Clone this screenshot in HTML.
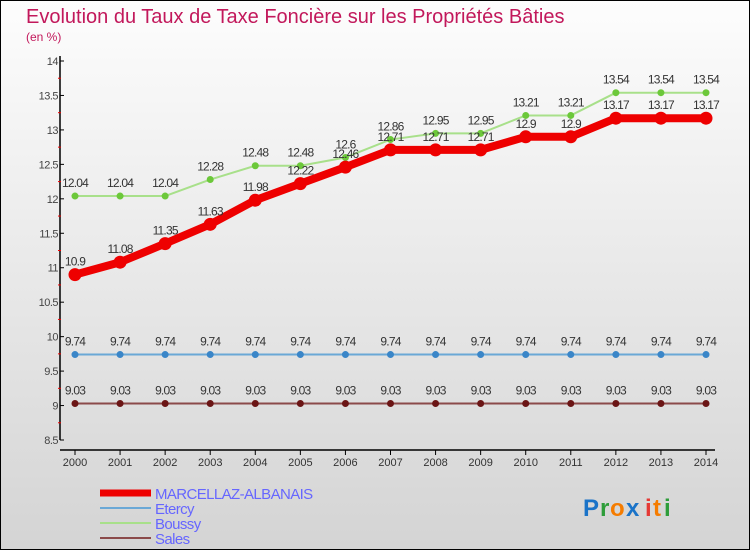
<!DOCTYPE html>
<html><head><meta charset="utf-8"><style>
body{margin:0;}
#c{width:750px;height:550px;position:relative;overflow:hidden;}
svg text{font-family:"Liberation Sans",sans-serif;}
</style></head><body>
<div id="c">
<svg id="s" width="750" height="550" xmlns="http://www.w3.org/2000/svg">
<defs><linearGradient id="bg" x1="0" y1="0" x2="0" y2="1"><stop offset="0" stop-color="#fdfdfd"/><stop offset="1" stop-color="#d4d4d4"/></linearGradient></defs>
<rect x="0.5" y="0.5" width="749" height="549" fill="url(#bg)" stroke="#000"/>
<text x="26" y="23" font-size="20" fill="#c2185b">Evolution du Taux de Taxe Foncière sur les Propriétés Bâties</text>
<text x="26" y="41" font-size="12" fill="#c2185b">(en %)</text>
<g id="axes"></g>
<g id="series"></g>
<g id="legend"></g>
<g font-size="24" font-weight="bold">
<text x="583" y="516" fill="#1a73c8">P</text><text x="600" y="516" fill="#2e9d3a">r</text><text x="610" y="516" fill="#f57c00">o</text><text x="626" y="516" fill="#1a73c8">x</text><text x="645" y="516" fill="#e53935">i</text><text x="653" y="516" fill="#f57c00">t</text><text x="664" y="516" fill="#2e9d3a">i</text>
</g>
</svg>
</div>
<script>
const years=[2000,2001,2002,2003,2004,2005,2006,2007,2008,2009,2010,2011,2012,2013,2014];
const yTicks=[8.5,9,9.5,10,10.5,11,11.5,12,12.5,13,13.5,14];
const marcellaz=[10.9,11.08,11.35,11.63,11.98,12.22,12.46,12.71,12.71,12.71,12.9,12.9,13.17,13.17,13.17];
const etercy=[9.74,9.74,9.74,9.74,9.74,9.74,9.74,9.74,9.74,9.74,9.74,9.74,9.74,9.74,9.74];
const boussy=[12.04,12.04,12.04,12.28,12.48,12.48,12.6,12.86,12.95,12.95,13.21,13.21,13.54,13.54,13.54];
const sales=[9.03,9.03,9.03,9.03,9.03,9.03,9.03,9.03,9.03,9.03,9.03,9.03,9.03,9.03,9.03];
const NS="http://www.w3.org/2000/svg";
function X(i){return 75+i*(706-75)/(years.length-1);}
function Y(v){return 440-(v-8.5)*(440-61)/(14-8.5);}
function mk(tag,attrs,parent){const e=document.createElementNS(NS,tag);for(const k in attrs)e.setAttribute(k,attrs[k]);parent.appendChild(e);return e;}
const ax=document.getElementById('axes');
let yl=mk('line',{x1:60,y1:56,x2:60,y2:440,stroke:'#000','stroke-width':1.5},ax);


let xl=mk('line',{x1:60,y1:450,x2:715,y2:450,stroke:'#000','stroke-width':1.5},ax);


yTicks.forEach((t,i)=>{
  const y=Y(t);
  mk('line',{x1:60,y1:y,x2:64,y2:y,stroke:'#000'},ax);
  if(i<yTicks.length-1) mk('line',{x1:58,y1:Y(t+0.25),x2:61,y2:Y(t+0.25),stroke:'#e00'},ax);
  const tx=mk('text',{x:58,y:y+4,'font-size':11,fill:'#444','text-anchor':'end','letter-spacing':'-0.5'},ax);
  tx.textContent=String(t);
  
  
});
years.forEach((yr,i)=>{
  mk('line',{x1:X(i),y1:450,x2:X(i),y2:455,stroke:'#000'},ax);
  const tx=mk('text',{x:X(i),y:466,'font-size':11,fill:'#333','text-anchor':'middle'},ax);
  tx.textContent=yr;
  
  
});
const sg=document.getElementById('series');
function draw(name,vals,color,dot,w,r){
  const g=mk('g',{},sg);
  
  
  const p=mk('polyline',{points:vals.map((v,i)=>X(i)+','+Y(v)).join(' '),fill:'none',stroke:color,'stroke-width':w,'stroke-linejoin':'round'},g);
  
  
  vals.forEach((v,i)=>{
    const c=mk('circle',{cx:X(i),cy:Y(v),r:r,fill:dot},g);
    
    
    const t=mk('text',{x:X(i),y:Y(v)-9,'font-size':12,fill:'#333','text-anchor':'middle','letter-spacing':'-0.8'},g);
    t.textContent=String(v);
    
    
  });
}
draw('sales',sales,'#8b4a4a','#6b1515',2,3.5);
draw('etercy',etercy,'#6aa8d6','#3a86c8',2,3.5);
draw('boussy',boussy,'#a8e08a','#6cc83a',2,3.5);
draw('marcellaz',marcellaz,'#ee0000','#ee0000',8,6.5);
const lg=document.getElementById('legend');
const leg=[['MARCELLAZ-ALBANAIS','#ee0000',7,498],['Etercy','#6aa8d6',2,513],['Boussy','#a8e08a',2,528],['Sales','#8b4a4a',2,543]];
leg.forEach(l=>{
  const g=mk('g',{},lg);
  
  
  mk('line',{x1:100,y1:l[3]-5,x2:151,y2:l[3]-5,stroke:l[1],'stroke-width':l[2]},g);
  const t=mk('text',{x:155,y:l[3]+1,'font-size':15,fill:'#6666ff','letter-spacing':'-0.6'},g);
  t.textContent=l[0];
});
</script>
</body></html>
